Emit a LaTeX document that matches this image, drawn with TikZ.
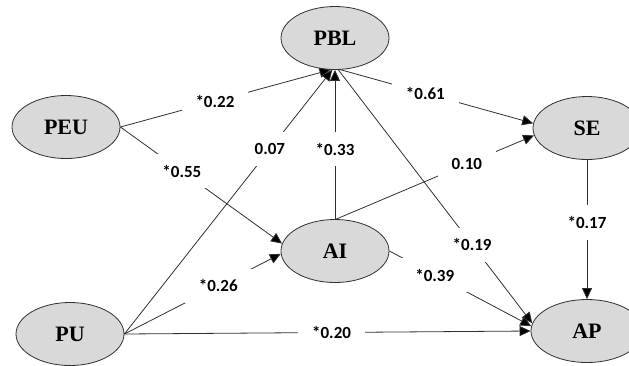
\documentclass[tikz,border=0pt]{standalone}
\usepackage{fontspec}
\setmainfont{Liberation Serif}
\newfontfamily\lblfont{Carlito}
\usetikzlibrary{shapes.geometric,arrows.meta}
\definecolor{ellgray}{HTML}{D9D9D9}
\definecolor{edgegray}{HTML}{303030}
\begin{document}
\begin{tikzpicture}[x=1pt,y=-1pt,
  latent/.style={ellipse,draw=edgegray,line width=0.8pt,fill=ellgray,minimum width=108pt,minimum height=63pt,inner sep=0pt,font=\fontsize{22}{22}\selectfont\bfseries},
  pathline/.style={draw=edgegray,line width=0.8pt,-{Triangle[length=11pt,width=10pt,fill=black]}},
  coef/.style={fill=white,inner xsep=14pt,inner ysep=11pt,font=\lblfont\fontsize{17}{17}\selectfont\bfseries}]
\useasboundingbox (0,0) rectangle (629,365);
\node[latent] (PBL) at (335,38) {PBL};
\node[latent] (PEU) at (66,127) {PEU};
\node[latent] (SE) at (587,128) {SE};
\node[latent] (AI) at (335,251) {AI};
\node[latent] (PU) at (70,334) {PU};
\node[latent,minimum width=112pt] (AP) at (587,331) {AP};
% paths
\draw[pathline] (PEU.east) -- node[coef,pos=0.45] {*0.22} (PBL.262);
\draw[pathline] (PEU.east) -- node[coef,pos=0.38] {*0.55} (AI.172);
\draw[pathline] (PU.east) -- node[coef,pos=0.70] {0.07} (PBL.265);
\draw[pathline] (AI.north) -- node[coef,pos=0.47] {*0.33} (PBL.south);
\draw[pathline] (PBL.280) -- node[coef,pos=0.44] {*0.61} (SE.175);
\draw[pathline] (AI.88) -- node[coef,pos=0.66] {0.10} (SE.188);
\draw[pathline] (PBL.276) -- node[coef,pos=0.69] {*0.19} (AP.172);
\draw[pathline] (AI.east) -- node[coef,pos=0.32] {*0.39} (AP.175);
\draw[pathline] (PU.east) -- node[coef,pos=0.60] {*0.26} (AI.183);
\draw[pathline] (PU.east) -- node[coef,pos=0.51] {*0.20} (AP.180);
\draw[pathline] (SE.south) -- node[coef,pos=0.45] {*0.17} (AP.north);
\end{tikzpicture}
\end{document}
